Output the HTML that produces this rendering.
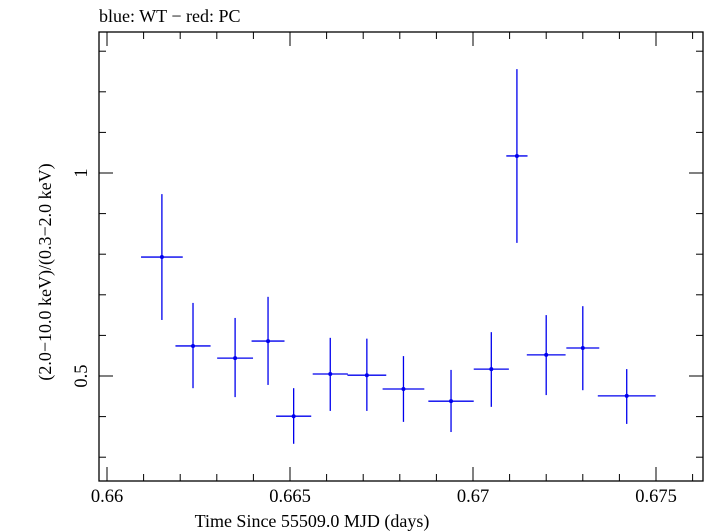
<!DOCTYPE html>
<html><head><meta charset="utf-8"><style>
html,body{margin:0;padding:0;background:#fff;}
svg{display:block;font-family:"Liberation Serif","DejaVu Serif",serif;}
</style></head><body>
<svg id="chart" width="705" height="532" viewBox="0 0 705 532" xmlns="http://www.w3.org/2000/svg">
<text x="99" y="22" font-size="18">blue: WT − red: PC</text>
<rect x="99" y="32" width="604" height="449" fill="none" stroke="#000" stroke-width="1.3"/>
<g id="axes"></g>
<g id="marks"></g>
<text x="312" y="527" font-size="18" text-anchor="middle">Time Since 55509.0 MJD (days)</text>
<text transform="translate(51,272) rotate(-90)" font-size="18" text-anchor="middle">(2.0−10.0 keV)/(0.3−2.0 keV)</text>
</svg>
<script>
const times = [0.6615,0.66235,0.6635,0.6644,0.6651,0.6661,0.6671,0.6681,0.6694,0.6705,0.6712,0.6720,0.6730,0.6742];
const halfWidths = [0.00057,0.00048,0.00049,0.00045,0.00048,0.00048,0.00053,0.00057,0.00062,0.00048,0.00029,0.00053,0.00045,0.00079];
const ratios = [0.793,0.574,0.544,0.586,0.401,0.505,0.502,0.468,0.438,0.517,1.042,0.552,0.569,0.451];
const errHigh = [0.948,0.680,0.643,0.695,0.470,0.594,0.592,0.549,0.515,0.608,1.256,0.650,0.672,0.517];
const errLow = [0.638,0.470,0.448,0.478,0.333,0.414,0.414,0.387,0.362,0.424,0.828,0.453,0.465,0.382];
const xMajor = [0.66,0.665,0.67,0.675];
const xMajorLabels = ["0.66","0.665","0.67","0.675"];
const yMajor = [0.5,1];
const yMajorLabels = ["0.5","1"];
const yMinor = [0.3,0.4,0.6,0.7,0.8,0.9,1.1,1.2,1.3];

const L=99,R=703,T=32,B=481;
const X=v=>107+(v-0.66)*(656-107)/0.015;
const Y=v=>173-(v-1)*406;
const NS="http://www.w3.org/2000/svg";
function mk(tag,attrs,parent){const e=document.createElementNS(NS,tag);for(const k in attrs)e.setAttribute(k,attrs[k]);parent.appendChild(e);return e;}
const ax=document.getElementById('axes'), mg=document.getElementById('marks');
for(let v=0.66; v<=0.6762; v+=0.001){
  const vv=Math.round(v*1000)/1000; const major=xMajor.some(m=>Math.abs(m-vv)<1e-9);
  const len=major?14:7; const x=X(vv);
  const t1=mk('line',{x1:x,x2:x,y1:B,y2:B-len,stroke:'#000','stroke-width':1},ax);
  
  
  const t2=mk('line',{x1:x,x2:x,y1:T,y2:T+len,stroke:'#000','stroke-width':1},ax);
  
  
}
xMajor.forEach((v,i)=>{const t=mk('text',{x:X(v),y:502,'font-size':18.5,'text-anchor':'middle'},ax);t.textContent=xMajorLabels[i];
  
  });
function yt(v,len){
  const y=Y(v);
  const a=mk('line',{x1:L,x2:L+len,y1:y,y2:y,stroke:'#000','stroke-width':1},ax);
  
  
  const b=mk('line',{x1:R,x2:R-len,y1:y,y2:y,stroke:'#000','stroke-width':1},ax);
  
  
}
yMinor.forEach(v=>{if(Y(v)>T&&Y(v)<B)yt(v,7);});
yMajor.forEach((v,i)=>{yt(v,14);
  const t=mk('text',{transform:`translate(87,${Y(v)}) rotate(-90)`,'font-size':18.5,'text-anchor':'middle'},ax);t.textContent=yMajorLabels[i];
  
  });
times.forEach((t,i)=>{
  const g=mk('g',{},mg);
  
  
  mk('line',{x1:X(t-halfWidths[i]),x2:X(t+halfWidths[i]),y1:Y(ratios[i]),y2:Y(ratios[i]),stroke:'#0000ee','stroke-width':1.3},g);
  mk('line',{x1:X(t),x2:X(t),y1:Y(errHigh[i]),y2:Y(errLow[i]),stroke:'#0000ee','stroke-width':1.3},g);
  mk('circle',{cx:X(t),cy:Y(ratios[i]),r:2,fill:'#0000ee'},g);
});
</script>
</body></html>
